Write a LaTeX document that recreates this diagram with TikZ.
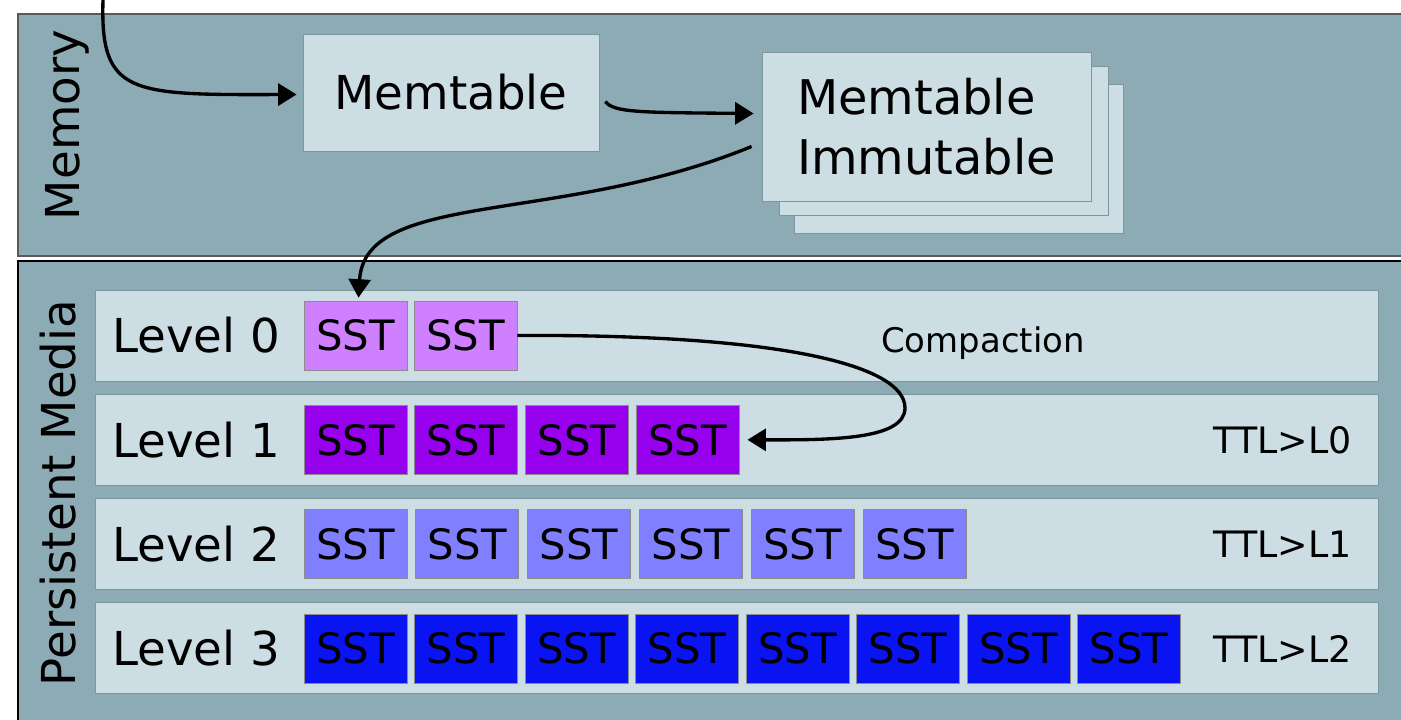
\documentclass[tikz,border=0pt]{standalone}
\usepackage{fontspec}
\setmainfont{DejaVu Sans}
\usepackage{tikz}
\usetikzlibrary{calc,arrows.meta}
\definecolor{panel}{HTML}{8DABB5}
\definecolor{box}{HTML}{CCDDE3}
\definecolor{boxline}{HTML}{7D979F}
\definecolor{sstA}{HTML}{CE80FF}
\definecolor{sstB}{HTML}{9600EC}
\definecolor{sstC}{HTML}{8080FF}
\definecolor{sstD}{HTML}{0A14F2}
\tikzset{
  panel/.style={fill=panel, line width=1.2pt},
  store/.style={rectangle, fill=box, draw=boxline, line width=0.5pt, inner sep=0pt},
  level/.style={store, minimum width=25.68cm, minimum height=1.82cm},
  sst/.style={rectangle, draw=black!45, line width=0.4pt, inner sep=0pt,
    minimum width=2.06cm, minimum height=1.38cm, font=\fontsize{23.8}{28}\selectfont},
  flow/.style={draw=black, line width=1.9pt, -{Triangle[length=10.5pt,width=12.5pt]}},
  big/.style={font=\fontsize{26.6}{32}\selectfont},
  side/.style={big, rotate=90, anchor=base, inner sep=0pt},
  ttl/.style={font=\fontsize{20.7}{25}\selectfont, anchor=east, inner sep=0pt}
}

\begin{document}
\begin{tikzpicture}[x=0.02cm, y=-0.02cm]
  \path[use as bounding box, clip] (0,0) rectangle (1401,720);

  % the two regions
  \draw[panel, draw=black!65] (18,14) rectangle (1430,256);
  \draw[panel, draw=black, line width=1.6pt] (18,261) rectangle (1430,740);
  \node[side] (memlabel) at (79,125) {Memory};
  \node[side] (disklabel) at (75,493) {Persistent Media};

  % memory side
  \node[store, minimum width=5.92cm, minimum height=2.34cm, big] (mem) at (451,92.5) {Memtable};
  \node[store, minimum width=6.58cm, minimum height=2.98cm] (imm3) at (958.5,158.5) {};
  \node[store, minimum width=6.58cm, minimum height=2.98cm] (imm2) at (944,141) {};
  \node[store, minimum width=6.58cm, minimum height=2.98cm, align=left,
    font=\fontsize{27.2}{34}\selectfont] (imm) at (926.5,126.5) {Memtable\\Immutable};

  % levels
  \foreach \lv/\cnt/\col/\gap in {0/2/sstA/110, 1/4/sstB/110.7, 2/6/sstC/111.8, 3/8/sstD/110.5}{
    \node[level] (lvl\lv) at (737,{335.5+104.3*\lv}) {};
    \node[big, anchor=west, inner sep=0pt] (lab\lv) at (112,{335.5+104.3*\lv}) {Level \lv};
    \foreach \i in {1,...,\cnt}
      \node[sst, fill=\col] (sst\lv-\i) at ({355.5+\gap*(\i-1)},{335.5+104.3*\lv}) {SST};
  }
  \node[ttl] (ttl1) at (1352,440) {TTL>L0};
  \node[ttl] (ttl2) at (1352,544.5) {TTL>L1};
  \node[ttl] (ttl3) at (1352,648.5) {TTL>L2};
  \node[font=\fontsize{19.3}{23}\selectfont] (compact) at (983,343) {Compaction};

  % data flow
  \coordinate (input) at (103,0);
  \coordinate (turn) at (905,408);
  \draw[flow] (input) .. controls (100,95) and (130,95) .. ($(mem.west)+(-6,2)$);
  \draw[flow] ($(mem.east)+(6,9)$) .. controls ($(mem.east)+(14,20)$) and ($(mem.east)+(40,20)$) .. ($(imm.west)+(-8,-13)$);
  \draw[flow] ($(imm.west)+(-10,20)$) .. controls (560,225) and (365,190) .. ($(sst0-1.north)+(3,-3)$);
  \draw[flow] (sst0-2.east) .. controls (780,334) and (905,365) .. (turn)
    .. controls (905,440) and (830,440) .. ($(sst1-4.east)+(8,0)$);
\end{tikzpicture}
\end{document}
